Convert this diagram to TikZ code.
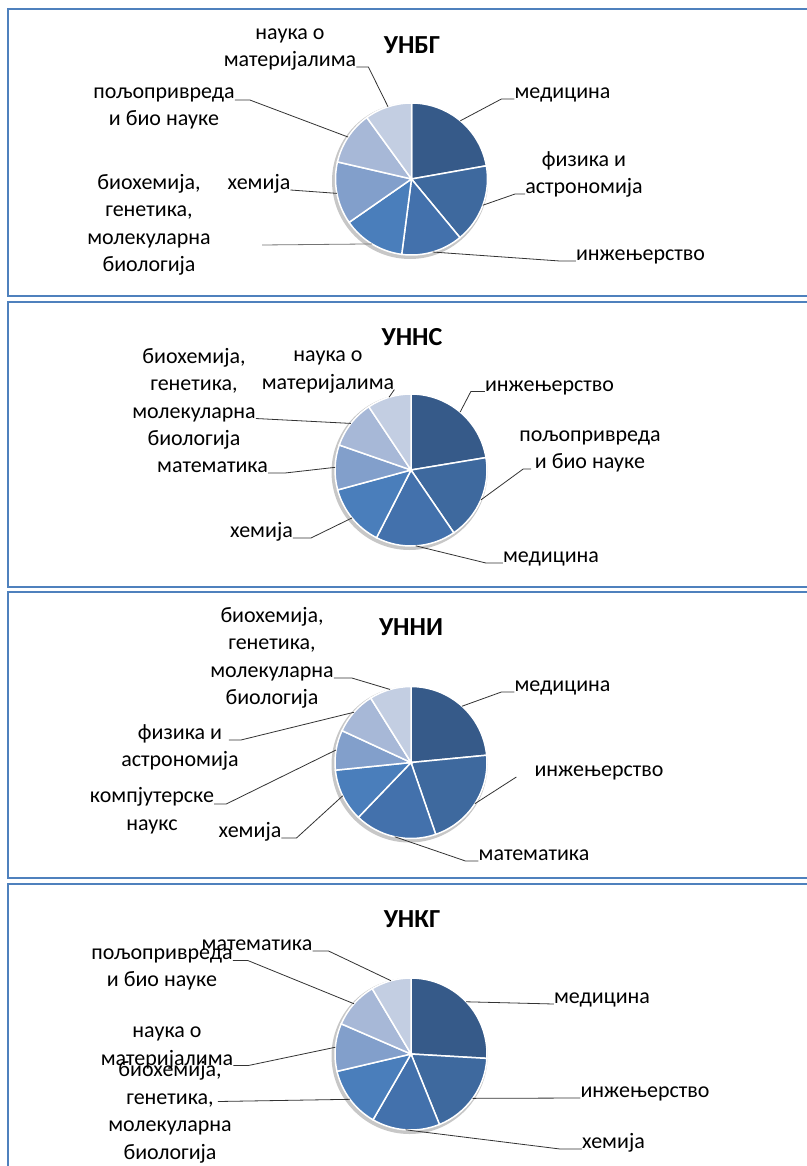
\documentclass[tikz,border=0pt]{standalone}
\usepackage{fontspec}
\setmainfont{Carlito}
\usepackage{xcolor}
\usepackage{tikz}
\definecolor{panelblue}{HTML}{4F81BD}
\definecolor{sa}{HTML}{365A89}
\definecolor{sb}{HTML}{3E699E}
\definecolor{sc}{HTML}{4371AC}
\definecolor{sd}{HTML}{4A7EBB}
\definecolor{se}{HTML}{829FCB}
\definecolor{sf}{HTML}{A7B8D7}
\definecolor{sg}{HTML}{C3CEE2}
\tikzset{
  panel/.style={draw=panelblue, line width=2pt, fill=white},
  lbl/.style={font=\fontsize{22}{27.5}\selectfont, align=center, inner sep=0pt, text depth=0pt},
  ttl/.style={font=\fontsize{26}{30}\selectfont\bfseries, inner sep=0pt},
  leader/.style={draw=black!80, line width=0.8pt}, % thin label line
  slice/.style={draw=white, line width=1.5pt},
  pieshade/.style={fill=black!22}
}

\begin{document}
\begin{tikzpicture}[x=1pt, y=-1pt]
  \useasboundingbox (0,0) rectangle (806,1166);
  \fill[white] (0,0) rectangle (806,1166);

  % Panels
  \draw[panel] (8,9.5) rectangle (830,295.5);
  \draw[panel] (8,302) rectangle (830,586.5);
  \draw[panel] (8,592.3) rectangle (830,878.3);
  \draw[panel] (8,884.3) rectangle (830,1190);

  % UNBG
  \coordinate (c1) at (411.5,179);
  \node[ttl] (title1) at (412,45) {УНБГ};
  \fill[pieshade] ([shift={(-1.5,2)}]c1) circle[radius=78];
  \foreach \a/\b/\col in {-90/-10/sa, -10/50.4/sb, 50.4/97.4/sc, 97.4/145.2/sd, 145.2/193/se, 193/234/sf, 234/270/sg}
    \filldraw[slice, fill=\col] (c1) -- ([shift={(\a:76)}]c1) arc[start angle=\a, end angle=\b, radius=76] -- cycle;
  \node[lbl, anchor=south] (med1) at (562.5,99) {медицина};
  \node[lbl, anchor=south] (fiz1) at (584,194) {физика и\\астрономија};
  \node[lbl, anchor=south] (inz1) at (640.5,261) {инжењерство};
  \node[lbl, anchor=south] (bio1) at (149,272) {биохемија,\\генетика,\\молекуларна\\биологија};
  \node[lbl, anchor=south] (hem1) at (259,190) {хемија};
  \node[lbl, anchor=south] (polj1) at (164,126) {пољопривреда\\и био науке};
  \node[lbl, anchor=south] (nauka1) at (290,67) {наука о\\материјалима};
  \coordinate (bioa) at (262,245);
  \draw[leader] (med1.south west) -- ++(-13,0) -- ([shift={(-50:76)}]c1);
  \draw[leader] (fiz1.south west) -- ++(-10,0) -- ([shift={(20.2:76)}]c1);
  \draw[leader] (inz1.south west) -- ++(-16,0) -- ([shift={(73.9:76)}]c1);
  \draw[leader, draw=black!55] (bioa) -- ([shift={(121.3:76)}]c1);
  \draw[leader] (hem1.south east) -- ([shift={(169.1:76)}]c1);
  \draw[leader] ([yshift=26pt]polj1.south east) -- ++(15,0) -- ([shift={(213.5:76)}]c1);
  \draw[leader] (nauka1.south east) -- ++(12,0) -- ([shift={(252:76)}]c1);

  % UNNS
  \coordinate (c2) at (411,470);
  \node[ttl] (title2) at (412,336.7) {УННС};
  \fill[pieshade] ([shift={(-1.5,2)}]c2) circle[radius=78];
  \foreach \a/\b/\col in {-90/-9.4/sa, -9.4/55.7/sb, 55.7/117/sc, 117/164.8/sd, 164.8/199.2/se, 199.2/236.3/sf, 236.3/270/sg}
    \filldraw[slice, fill=\col] (c2) -- ([shift={(\a:76)}]c2) arc[start angle=\a, end angle=\b, radius=76] -- cycle;
  \node[lbl, anchor=south] (inz2) at (549.5,391.5) {инжењерство};
  \node[lbl, anchor=south] (polj2) at (590,469) {пољопривреда\\и био науке};
  \node[lbl, anchor=south] (med2) at (551,563) {медицина};
  \node[lbl, anchor=south] (hem2) at (261.5,538) {хемија};
  \node[lbl, anchor=south] (mat2) at (212.5,473) {математика};
  \node[lbl, anchor=south] (bio2) at (194,446) {биохемија,\\генетика,\\молекуларна\\биологија};
  \node[lbl, anchor=south] (nauka2) at (328,389.5) {наука о\\материјалима};
  \draw[leader] (inz2.south west) -- ++(-14,0) -- ([shift={(-49.7:76)}]c2);
  \draw[leader] ([xshift=12pt]polj2.south west) -- ++(-8,0) -- ([shift={(23.2:76)}]c2);
  \draw[leader] (med2.south west) -- ++(-17,0) -- ([shift={(86.4:76)}]c2);
  \draw[leader] (hem2.south east) -- ++(18,0) -- ([shift={(140.9:76)}]c2);
  \draw[leader] (mat2.south east) -- ++(17,0) -- ([shift={(182:76)}]c2);
  \draw[leader] ([yshift=27.5pt]bio2.south east) -- ([shift={(217.8:76)}]c2);
  \draw[leader] (nauka2.south east) -- ([shift={(253.2:76)}]c2);

  % UNNI
  \coordinate (c3) at (411,762.5);
  \node[ttl] (title3) at (411,627.3) {УННИ};
  \fill[pieshade] ([shift={(-1.5,2)}]c3) circle[radius=78];
  \foreach \a/\b/\col in {-90/-5.5/sa, -5.5/71/sb, 71/133.8/sc, 133.8/174.2/sd, 174.2/204.8/se, 204.8/238/sf, 238/270/sg}
    \filldraw[slice, fill=\col] (c3) -- ([shift={(\a:76)}]c3) arc[start angle=\a, end angle=\b, radius=76] -- cycle;
  \node[lbl, anchor=south] (med3) at (562.5,692) {медицина};
  \node[lbl, anchor=south] (inz3) at (599,777) {инжењерство};
  \node[lbl, anchor=south] (mat3) at (534,861) {математика};
  \node[lbl, anchor=south] (hem3) at (250,838) {хемија};
  \node[lbl, anchor=south] (komp3) at (152,830.5) {компјутерске\\наукс};
  \node[lbl, anchor=south] (fiz3) at (180,767) {физика и\\астрономија};
  \node[lbl, anchor=south] (bio3) at (272,705) {биохемија,\\генетика,\\молекуларна\\биологија};
  \draw[leader] (med3.south west) -- ++(-13,0) -- ([shift={(-47.8:76)}]c3);
  \draw[leader] ([xshift=-18pt]inz3.south west) -- ([shift={(32.8:76)}]c3);
  \draw[leader] (mat3.south west) -- ++(-13,0) -- ([shift={(102.4:76)}]c3);
  \draw[leader] (hem3.south east) -- ++(15,0) -- ([shift={(154:76)}]c3);
  \draw[leader] ([yshift=26.5pt]komp3.south east) -- ++(12,0) -- ([shift={(189.5:76)}]c3);
  \draw[leader] ([xshift=-10pt, yshift=27pt]fiz3.south east) -- ++(12,0) -- ([shift={(221.4:76)}]c3);
  \draw[leader] ([yshift=27pt]bio3.south east) -- ++(18,0) -- ([shift={(254:76)}]c3);

  % UNKG
  \coordinate (c4) at (411,1054);
  \node[ttl] (title4) at (412,919.3) {УНКГ};
  \fill[pieshade] ([shift={(-1.5,2)}]c4) circle[radius=78];
  \foreach \a/\b/\col in {-90/3.3/sa, 3.3/68/sb, 68/120/sc, 120/166.8/sd, 166.8/203.4/se, 203.4/239.3/sf, 239.3/270/sg}
    \filldraw[slice, fill=\col] (c4) -- ([shift={(\a:76)}]c4) arc[start angle=\a, end angle=\b, radius=76] -- cycle;
  \node[lbl, anchor=south] (med4) at (602,1004) {медицина};
  \node[lbl, anchor=south] (inz4) at (645,1098) {инжењерство};
  \node[lbl, anchor=south] (hem4) at (613.5,1149) {хемија};
  \node[lbl, anchor=south] (bio4) at (170,1159.5) {биохемија,\\генетика,\\молекуларна\\биологија};
  \node[lbl, anchor=south] (nauka4) at (167,1065.5) {наука о\\материјалима};
  \node[lbl, anchor=south] (polj4) at (162,987) {пољопривреда\\и био науке};
  \node[lbl, anchor=south] (mat4) at (257,951) {математика};
  \draw[leader] (med4.south west) -- ([shift={(-43.4:76)}]c4);
  \draw[leader] (inz4.south west) -- ([shift={(35.7:76)}]c4);
  \draw[leader] (hem4.south west) -- ++(-22,0) -- ([shift={(94:76)}]c4);
  \draw[leader] ([xshift=-14pt, yshift=58pt]bio4.south east) -- ([shift={(143.4:76)}]c4);
  \draw[leader] (nauka4.south east) -- ++(15,0) -- ([shift={(185.1:76)}]c4);
  \draw[leader] ([yshift=26.5pt]polj4.south east) -- ++(15,0) -- ([shift={(221.4:76)}]c4);
  \draw[leader] (mat4.south east) -- ++(16,0) -- ([shift={(254.7:76)}]c4);
\end{tikzpicture}
\end{document}
